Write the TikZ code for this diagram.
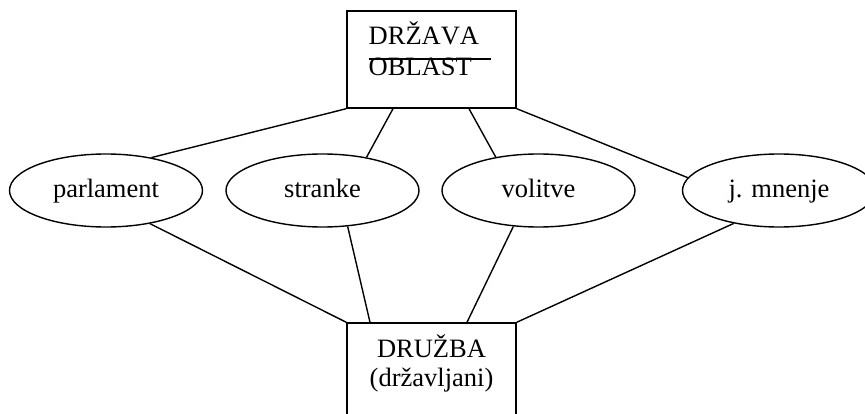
\documentclass[tikz,border=0pt]{standalone}
\usepackage{fontspec}
\setmainfont[Kerning=Off]{Liberation Serif}
\usetikzlibrary{shapes.geometric}
\begin{document}
\begin{tikzpicture}[x=1pt,y=-1pt,line width=1.4pt,
  box/.style={draw,rectangle,inner sep=0pt},
  oval/.style={draw,ellipse,inner sep=0pt,minimum width=193pt,minimum height=73pt,
    text height=20pt,text depth=5pt,font=\fontsize{26.5}{31}\selectfont},
  lbl/.style={inner sep=0pt,font=\fontsize{26.5}{31}\selectfont}]
\useasboundingbox (0,0) rectangle (865,414);
\clip (0,0) rectangle (865,414);
% boxes
\node[box,minimum width=169pt,minimum height=97pt] (drzava) at (431.5,59.5) {};
\node[lbl,anchor=base west] (t1) at (368,45) {DRŽAVA};
\node[lbl,anchor=base west] (t2) at (368,76) {OBLAST};
\coordinate (ola) at (369,59);
\coordinate (olb) at (491,59);
\draw[line width=1.8pt] (ola) -- (olb);
\node[box,minimum width=169pt,minimum height=130pt] (druzba) at (431.5,388) {};
\node[lbl,anchor=base] (b1) at (431.5,357) {DRUŽBA};
\node[lbl,anchor=base] (b2) at (431.5,386) {(državljani)};
% ellipses
\node[oval] (parl) at (106,190.5) {parlament};
\node[oval] (str) at (322.5,190.5) {stranke};
\node[oval] (vol) at (538.5,190.5) {volitve};
\node[oval] (mn) at (779,190.5) {j. mnenje};
% connectors
\draw (drzava.south west) -- (parl.36);
\path (drzava.south) ++(-38.5,0) coordinate (d1);
\path (drzava.south) ++(37.5,0) coordinate (d2);
\draw (d1) -- (str.37.5);
\draw (d2) -- (vol.142.5);
\draw (drzava.south east) -- (mn.172.6);
\draw (druzba.north west) -- (parl.-37);
\path (druzba.north) ++(-61.5,0) coordinate (e1);
\path (druzba.north) ++(35.5,0) coordinate (e2);
\draw (e1) -- (str.-55);
\draw (e2) -- (vol.235);
\draw (druzba.north east) -- (mn.216.7);
\end{tikzpicture}
\end{document}
